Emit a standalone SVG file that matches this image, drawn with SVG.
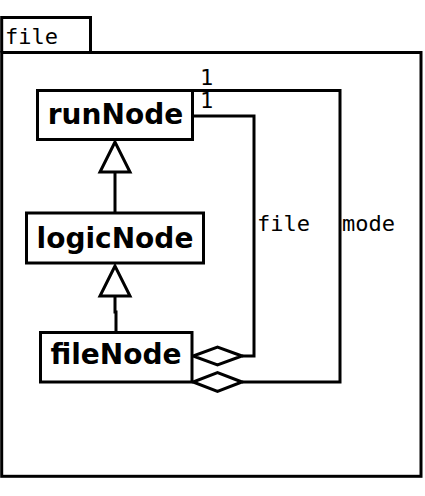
<svg xmlns="http://www.w3.org/2000/svg" width="425" height="496" viewBox="0 0 425 496">
<style>
.ln{fill:none;stroke:#000;stroke-width:3}
.box{fill:#fff;stroke:#000;stroke-width:3}
.nm{font-family:"DejaVu Sans",sans-serif;font-weight:bold;font-size:28px;text-anchor:middle;fill:#000}
.lb{font-family:"DejaVu Sans Mono",monospace;font-size:22px;fill:#000}
.tri{fill:#fff;stroke:#000;stroke-width:3;stroke-linejoin:miter}
</style>
<rect width="425" height="496" fill="#fff"/>
<g id="frame">
<path class="ln" d="M1.7,52.5 V17.5 H90.5 V52.5"/>
<rect class="ln" x="1.7" y="52.5" width="419.3" height="423.8"/>
<text class="lb" x="5" y="44">file</text>
</g>
<g id="connectors">
<path class="ln" d="M115,213 V172"/>
<polygon class="tri" points="115,142 100,172 130,172"/>
<path class="ln" d="M116,332 V312 H115 V296"/>
<polygon class="tri" points="115,266 100,296 130,296"/>
<path class="ln" d="M192,116 H254 V356 H242"/>
<polygon class="tri" points="242,356 217.5,347 193,356 217.5,365"/>
<path class="ln" d="M192,90.5 H340 V382 H242"/>
<polygon class="tri" points="242,382 217.5,372.7 193,382 217.5,391.5"/>
<text class="lb" x="200" y="85">1</text>
<text class="lb" x="200" y="108">1</text>
<text class="lb" x="257" y="231">file</text>
<text class="lb" x="342" y="231">mode</text>
</g>
<g id="runNode">
<rect class="box" x="37.5" y="90.5" width="155" height="49"/>
<text class="nm" x="115.5" y="124">runNode</text>
</g>
<g id="logicNode">
<rect class="box" x="26.5" y="213" width="177" height="50"/>
<text class="nm" x="115" y="247.5">logicNode</text>
</g>
<g id="fileNode">
<rect class="box" x="40.5" y="332.5" width="151.5" height="49.5"/>
<text class="nm" x="116" y="364">fileNode</text>
</g>
</svg>
